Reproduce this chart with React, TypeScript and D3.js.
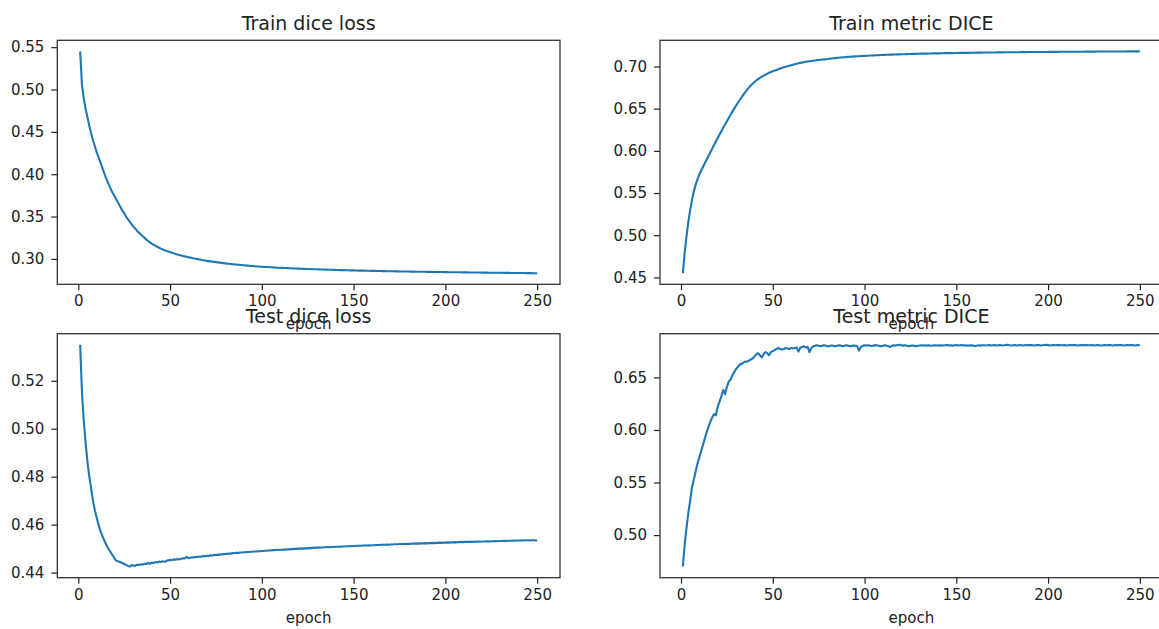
import React, { useRef, useEffect } from 'react';
import * as d3 from 'd3';

// values, one per epoch (1..250)
const trainLoss = [
  0.545, 0.505, 0.489, 0.477, 0.467, 0.457, 0.448, 0.440, 0.433, 0.426,
  0.420, 0.414, 0.408, 0.402, 0.396, 0.391, 0.386, 0.381, 0.377, 0.373,
  0.369, 0.365, 0.361, 0.357, 0.354, 0.350, 0.347, 0.344, 0.341, 0.338,
  0.336, 0.333, 0.331, 0.329, 0.327, 0.325, 0.323, 0.3212, 0.3196, 0.3181,
  0.3168, 0.3155, 0.3143, 0.3132, 0.3121, 0.3111, 0.3102, 0.3094, 0.3087, 0.3080,
  0.3073, 0.3066, 0.3059, 0.3053, 0.3047, 0.3041, 0.3035, 0.3030, 0.3025, 0.3020,
  0.3015, 0.3010, 0.3005, 0.3001, 0.2997, 0.2993, 0.2989, 0.2985, 0.2981, 0.2977,
  0.2974, 0.2971, 0.2968, 0.2965, 0.2962, 0.2959, 0.2956, 0.2953, 0.2950, 0.2947,
  0.2944, 0.2942, 0.2940, 0.2937, 0.2935, 0.2933, 0.2931, 0.2929, 0.2927, 0.2925,
  0.2923, 0.2921, 0.2919, 0.2917, 0.2916, 0.2914, 0.2912, 0.2911, 0.2909, 0.2908,
  0.2906, 0.2905, 0.2904, 0.2902, 0.2901, 0.2900, 0.2899, 0.2897, 0.2896, 0.2895,
  0.2894, 0.2893, 0.2892, 0.2891, 0.2890, 0.2889, 0.2888, 0.2887, 0.2886, 0.2885,
  0.2884, 0.2883, 0.2882, 0.2881, 0.2881, 0.2880, 0.2879, 0.2878, 0.2877, 0.2877,
  0.2876, 0.2875, 0.2874, 0.2874, 0.2873, 0.2872, 0.2872, 0.2871, 0.2870, 0.2870,
  0.2869, 0.2868, 0.2868, 0.2867, 0.2867, 0.2866, 0.2866, 0.2865, 0.2864, 0.2864,
  0.2863, 0.2863, 0.2862, 0.2862, 0.2861, 0.2861, 0.2860, 0.2860, 0.2859, 0.2859,
  0.2858, 0.2858, 0.2857, 0.2857, 0.2857, 0.2856, 0.2856, 0.2855, 0.2855, 0.2854,
  0.2854, 0.2854, 0.2853, 0.2853, 0.2852, 0.2852, 0.2852, 0.2851, 0.2851, 0.2851,
  0.2850, 0.2850, 0.2850, 0.2849, 0.2849, 0.2849, 0.2848, 0.2848, 0.2848, 0.2847,
  0.2847, 0.2847, 0.2846, 0.2846, 0.2846, 0.2845, 0.2845, 0.2845, 0.2844, 0.2844,
  0.2844, 0.2843, 0.2843, 0.2843, 0.2843, 0.2842, 0.2842, 0.2842, 0.2841, 0.2841,
  0.2841, 0.2841, 0.2840, 0.2840, 0.2840, 0.2839, 0.2839, 0.2839, 0.2839, 0.2838,
  0.2838, 0.2838, 0.2838, 0.2837, 0.2837, 0.2837, 0.2837, 0.2836, 0.2836, 0.2836,
  0.2836, 0.2835, 0.2835, 0.2835, 0.2835, 0.2834, 0.2834, 0.2834, 0.2834, 0.2833,
  0.2833, 0.2833, 0.2833, 0.2832, 0.2832, 0.2832, 0.2832, 0.2831, 0.2831, 0.2831,
];

const trainDice = [
  0.455, 0.479, 0.499, 0.516, 0.530, 0.542, 0.552, 0.560, 0.5665, 0.572,
  0.5768, 0.5812, 0.5855, 0.5898, 0.5940, 0.5983, 0.6026, 0.6069, 0.6112, 0.6153,
  0.6194, 0.6234, 0.6274, 0.6313, 0.6352, 0.6390, 0.6428, 0.6465, 0.6501, 0.6536,
  0.6570, 0.6603, 0.6635, 0.6666, 0.6696, 0.6724, 0.6750, 0.6774, 0.6796, 0.6816,
  0.6834, 0.6850, 0.6865, 0.6879, 0.6892, 0.6904, 0.6915, 0.6925, 0.6934, 0.6943,
  0.6951, 0.6959, 0.6967, 0.6975, 0.6983, 0.6990, 0.6997, 0.7003, 0.7009, 0.7015,
  0.7021, 0.7027, 0.7033, 0.7038, 0.7043, 0.7048, 0.7052, 0.7056, 0.7060, 0.7063,
  0.7066, 0.7069, 0.7072, 0.7075, 0.7077, 0.7080, 0.7082, 0.7084, 0.7086, 0.7088,
  0.7091, 0.7094, 0.7097, 0.7099, 0.7102, 0.7104, 0.7106, 0.7108, 0.7110, 0.7112,
  0.7114, 0.7115, 0.7117, 0.7118, 0.7120, 0.7121, 0.7122, 0.7124, 0.7125, 0.7126,
  0.7127, 0.7128, 0.7130, 0.7131, 0.7132, 0.7133, 0.7134, 0.7135, 0.7136, 0.7137,
  0.7138, 0.7139, 0.7140, 0.7141, 0.7141, 0.7142, 0.7143, 0.7144, 0.7144, 0.7145,
  0.7146, 0.7146, 0.7147, 0.7148, 0.7148, 0.7149, 0.7149, 0.7150, 0.7151, 0.7151,
  0.7152, 0.7152, 0.7153, 0.7153, 0.7154, 0.7154, 0.7155, 0.7155, 0.7155, 0.7156,
  0.7156, 0.7157, 0.7157, 0.7158, 0.7158, 0.7158, 0.7159, 0.7159, 0.7160, 0.7160,
  0.7160, 0.7161, 0.7161, 0.7161, 0.7162, 0.7162, 0.7162, 0.7163, 0.7163, 0.7163,
  0.7164, 0.7164, 0.7164, 0.7164, 0.7165, 0.7165, 0.7165, 0.7166, 0.7166, 0.7166,
  0.7166, 0.7167, 0.7167, 0.7167, 0.7167, 0.7168, 0.7168, 0.7168, 0.7168, 0.7169,
  0.7169, 0.7169, 0.7169, 0.7169, 0.7170, 0.7170, 0.7170, 0.7170, 0.7170, 0.7171,
  0.7171, 0.7171, 0.7171, 0.7171, 0.7172, 0.7172, 0.7172, 0.7172, 0.7172, 0.7172,
  0.7173, 0.7173, 0.7173, 0.7173, 0.7173, 0.7173, 0.7174, 0.7174, 0.7174, 0.7174,
  0.7174, 0.7174, 0.7175, 0.7175, 0.7175, 0.7175, 0.7175, 0.7175, 0.7175, 0.7176,
  0.7176, 0.7176, 0.7176, 0.7176, 0.7176, 0.7176, 0.7177, 0.7177, 0.7177, 0.7177,
  0.7177, 0.7177, 0.7177, 0.7177, 0.7178, 0.7178, 0.7178, 0.7178, 0.7178, 0.7178,
  0.7178, 0.7178, 0.7179, 0.7179, 0.7179, 0.7179, 0.7179, 0.7179, 0.7179, 0.7179,
];

const testLoss = [
  0.535, 0.515, 0.503, 0.494, 0.486, 0.480, 0.475, 0.470, 0.466, 0.463,
  0.4600, 0.4575, 0.4555, 0.4537, 0.4520, 0.4505, 0.4492, 0.4480, 0.4468, 0.4455,
  0.4448, 0.4446, 0.4443, 0.4440, 0.4436, 0.4432, 0.4428, 0.4425, 0.4431, 0.4430,
  0.4428, 0.4433, 0.4432, 0.4435, 0.4433, 0.4437, 0.4436, 0.4440, 0.4437, 0.4441,
  0.4440, 0.4444, 0.4442, 0.4446, 0.4444, 0.4447, 0.4445, 0.4449, 0.4451, 0.4453,
  0.4452, 0.4455, 0.4454, 0.4457, 0.4455, 0.4458, 0.4460, 0.4459, 0.4466, 0.4460,
  0.4462, 0.4464, 0.4463, 0.4466, 0.4465, 0.4467, 0.4466, 0.4469, 0.4468, 0.4470,
  0.4469, 0.4472, 0.4471, 0.4474, 0.4473, 0.4475, 0.4474, 0.4477, 0.4476, 0.4478,
  0.4478, 0.4480, 0.4479, 0.4482, 0.4481, 0.4483, 0.4482, 0.4484, 0.4484, 0.4485,
  0.4485, 0.4486, 0.4486, 0.4487, 0.4487, 0.4488, 0.4488, 0.4489, 0.4489, 0.4490,
  0.4490, 0.4491, 0.4491, 0.4493, 0.4492, 0.4494, 0.4493, 0.4495, 0.4494, 0.4495,
  0.4495, 0.4496, 0.4496, 0.4497, 0.4497, 0.4498, 0.4498, 0.4499, 0.4499, 0.4500,
  0.4500, 0.4501, 0.4500, 0.4502, 0.4501, 0.4503, 0.4502, 0.4504, 0.4503, 0.4504,
  0.4504, 0.4505, 0.4505, 0.4506, 0.4506, 0.4507, 0.4506, 0.4507, 0.4507, 0.4508,
  0.4508, 0.4509, 0.4508, 0.4509, 0.4509, 0.4510, 0.4510, 0.4511, 0.4510, 0.4511,
  0.4511, 0.4512, 0.4512, 0.4512, 0.4513, 0.4513, 0.4513, 0.4514, 0.4513, 0.4514,
  0.4514, 0.4515, 0.4515, 0.4515, 0.4516, 0.4516, 0.4516, 0.4517, 0.4516, 0.4517,
  0.4517, 0.4518, 0.4518, 0.4518, 0.4519, 0.4519, 0.4519, 0.4520, 0.4519, 0.4520,
  0.4520, 0.4521, 0.4521, 0.4521, 0.4522, 0.4521, 0.4522, 0.4522, 0.4523, 0.4522,
  0.4523, 0.4523, 0.4524, 0.4523, 0.4524, 0.4524, 0.4525, 0.4524, 0.4525, 0.4525,
  0.4526, 0.4525, 0.4526, 0.4526, 0.4527, 0.4526, 0.4527, 0.4527, 0.4528, 0.4527,
  0.4528, 0.4528, 0.4528, 0.4529, 0.4528, 0.4529, 0.4529, 0.4530, 0.4529, 0.4530,
  0.4530, 0.4530, 0.4531, 0.4530, 0.4531, 0.4531, 0.4532, 0.4531, 0.4532, 0.4532,
  0.4532, 0.4533, 0.4532, 0.4533, 0.4533, 0.4533, 0.4534, 0.4533, 0.4534, 0.4534,
  0.4534, 0.4535, 0.4534, 0.4535, 0.4535, 0.4534, 0.4535, 0.4535, 0.4534, 0.4534,
];

const testDice = [
  0.470, 0.491, 0.507, 0.521, 0.533, 0.546, 0.553, 0.561, 0.568, 0.574,
  0.580, 0.586, 0.592, 0.598, 0.603, 0.608, 0.612, 0.615, 0.614, 0.622,
  0.627, 0.632, 0.638, 0.634, 0.641, 0.646, 0.648, 0.652, 0.655, 0.658,
  0.660, 0.662, 0.663, 0.664, 0.665, 0.665, 0.666, 0.667, 0.668, 0.670,
  0.672, 0.673, 0.671, 0.669, 0.672, 0.674, 0.673, 0.671, 0.674, 0.675,
  0.676, 0.677, 0.678, 0.677, 0.6765, 0.677, 0.678, 0.6775, 0.677, 0.678,
  0.6775, 0.6780, 0.6785, 0.6745, 0.6782, 0.6790, 0.6795, 0.6785, 0.6790, 0.6740,
  0.6780, 0.6795, 0.6800, 0.6805, 0.6800, 0.6796, 0.6802, 0.6806, 0.6800, 0.6795,
  0.6798, 0.6804, 0.6800, 0.6796, 0.6800, 0.6805, 0.6802, 0.6797, 0.6801, 0.6806,
  0.6802, 0.6797, 0.6800, 0.6804, 0.6800, 0.6795, 0.6755, 0.6790, 0.6800, 0.6805,
  0.6803, 0.6806, 0.6801, 0.6798, 0.6802, 0.6807, 0.6804, 0.6800, 0.6797, 0.6801,
  0.6805, 0.6802, 0.6796, 0.6790, 0.6800, 0.6806, 0.6803, 0.6808, 0.6810, 0.6806,
  0.6802, 0.6805, 0.6801, 0.6796, 0.6800, 0.6804, 0.6801, 0.6797, 0.6801, 0.6803,
  0.6806, 0.6803, 0.6806, 0.6802, 0.6805, 0.6801, 0.6803, 0.6806, 0.6803, 0.6805,
  0.6802, 0.6805, 0.6803, 0.6806, 0.6807, 0.6803, 0.6805, 0.6802, 0.6805, 0.6807,
  0.6804, 0.6806, 0.6807, 0.6803, 0.6805, 0.6802, 0.6804, 0.6806, 0.6802, 0.6798,
  0.6801, 0.6805, 0.6802, 0.6805, 0.6806, 0.6803, 0.6805, 0.6807, 0.6804, 0.6806,
  0.6807, 0.6804, 0.6806, 0.6807, 0.6803, 0.6806, 0.6808, 0.6810, 0.6806, 0.6803,
  0.6805, 0.6807, 0.6804, 0.6806, 0.6808, 0.6804, 0.6806, 0.6808, 0.6805, 0.6807,
  0.6808, 0.6804, 0.6806, 0.6808, 0.6807, 0.6804, 0.6806, 0.6808, 0.6810, 0.6807,
  0.6804, 0.6806, 0.6808, 0.6805, 0.6807, 0.6808, 0.6805, 0.6806, 0.6808, 0.6804,
  0.6806, 0.6808, 0.6805, 0.6807, 0.6808, 0.6804, 0.6806, 0.6808, 0.6805, 0.6807,
  0.6808, 0.6805, 0.6806, 0.6808, 0.6804, 0.6806, 0.6808, 0.6805, 0.6803, 0.6806,
  0.6808, 0.6805, 0.6807, 0.6808, 0.6804, 0.6806, 0.6808, 0.6805, 0.6807, 0.6808,
  0.6804, 0.6806, 0.6808, 0.6805, 0.6807, 0.6808, 0.6804, 0.6806, 0.6807, 0.6805,
];

const xTicks = [0, 50, 100, 150, 200, 250];
const trainLossTicks = [0.30, 0.35, 0.40, 0.45, 0.50, 0.55];
const trainDiceTicks = [0.45, 0.50, 0.55, 0.60, 0.65, 0.70];
const testLossTicks = [0.44, 0.46, 0.48, 0.50, 0.52];
const testDiceTicks = [0.50, 0.55, 0.60, 0.65];

const titles = ['Train dice loss', 'Train metric DICE', 'Test dice loss', 'Test metric DICE'];

const FONT = '"DejaVu Sans", sans-serif';
const LINE_COLOR = '#1f77b4';
const INK = '#222';

export default function App() {
  const svgRef = useRef<SVGSVGElement | null>(null);

  useEffect(() => {
    if (!svgRef.current) return;
    const svg = d3.select(svgRef.current);
    svg.selectAll('*').remove();

    // subplot grid (2x2), matplotlib-like layout
    const colLeft = [57.3, 660];
    const rowTop = [40.3, 333.7];
    const boxW = 502.7;
    const boxH = 244;

    const panels = [
      { title: titles[0], values: trainLoss, ticks: trainLossTicks, col: 0, row: 0 },
      { title: titles[1], values: trainDice, ticks: trainDiceTicks, col: 1, row: 0 },
      { title: titles[2], values: testLoss, ticks: testLossTicks, col: 0, row: 1 },
      { title: titles[3], values: testDice, ticks: testDiceTicks, col: 1, row: 1 },
    ];

    panels.forEach(p => {
      const left = colLeft[p.col];
      const top = rowTop[p.row];
      const n = p.values.length;

      // 5% margins like matplotlib autoscale
      const xPad = (n - 1) * 0.05;
      const x = d3.scaleLinear()
        .domain([1 - xPad, n + xPad])
        .range([left, left + boxW]);

      const [lo, hi] = d3.extent(p.values) as [number, number];
      const yPad = (hi - lo) * 0.05;
      const y = d3.scaleLinear()
        .domain([lo - yPad, hi + yPad])
        .range([top + boxH, top]);

      const g = svg.append('g');

      const line = d3.line<number>()
        .x((_, i) => x(i + 1))
        .y(d => y(d));

      g.append('path')
        .datum(p.values)
        .attr('fill', 'none')
        .attr('stroke', LINE_COLOR)
        .attr('stroke-width', 2.1)
        .attr('stroke-linejoin', 'round')
        .attr('d', line);

      // axes
      const xAxis = g.append('g')
        .attr('transform', `translate(0,${top + boxH})`)
        .call(d3.axisBottom(x).tickValues(xTicks).tickFormat(d3.format('d')).tickSize(6).tickPadding(5.5).tickSizeOuter(0));
      const yAxis = g.append('g')
        .attr('transform', `translate(${left},0)`)
        .call(d3.axisLeft(y).tickValues(p.ticks).tickFormat(d3.format('.2f')).tickSize(6).tickPadding(7).tickSizeOuter(0));

      [xAxis, yAxis].forEach(ax => {
        ax.select('.domain').remove();
        ax.attr('color', INK)
          .attr('font-family', FONT)
          .attr('font-size', 15);
        ax.selectAll('line').attr('stroke-width', 1.2);
      });

      // frame
      g.append('rect')
        .attr('x', left)
        .attr('y', top)
        .attr('width', boxW)
        .attr('height', boxH)
        .attr('fill', 'none')
        .attr('stroke', '#333')
        .attr('stroke-width', 1.3);

      g.append('text')
        .attr('x', left + boxW / 2)
        .attr('y', top - 10.5)
        .attr('text-anchor', 'middle')
        .attr('font-family', FONT)
        .attr('font-size', 19)
        .attr('fill', INK)
        .text(p.title);

      g.append('text')
        .attr('x', left + boxW / 2)
        .attr('y', top + boxH + 45)
        .attr('text-anchor', 'middle')
        .attr('font-family', FONT)
        .attr('font-size', 15)
        .attr('fill', INK)
        .text('epoch');
    });
  }, []);

  return (
    <svg
      ref={svgRef}
      width={1159}
      height={629}
      style={{ position: 'absolute', left: 0, top: 0, background: '#fff' }}
    />
  );
}
